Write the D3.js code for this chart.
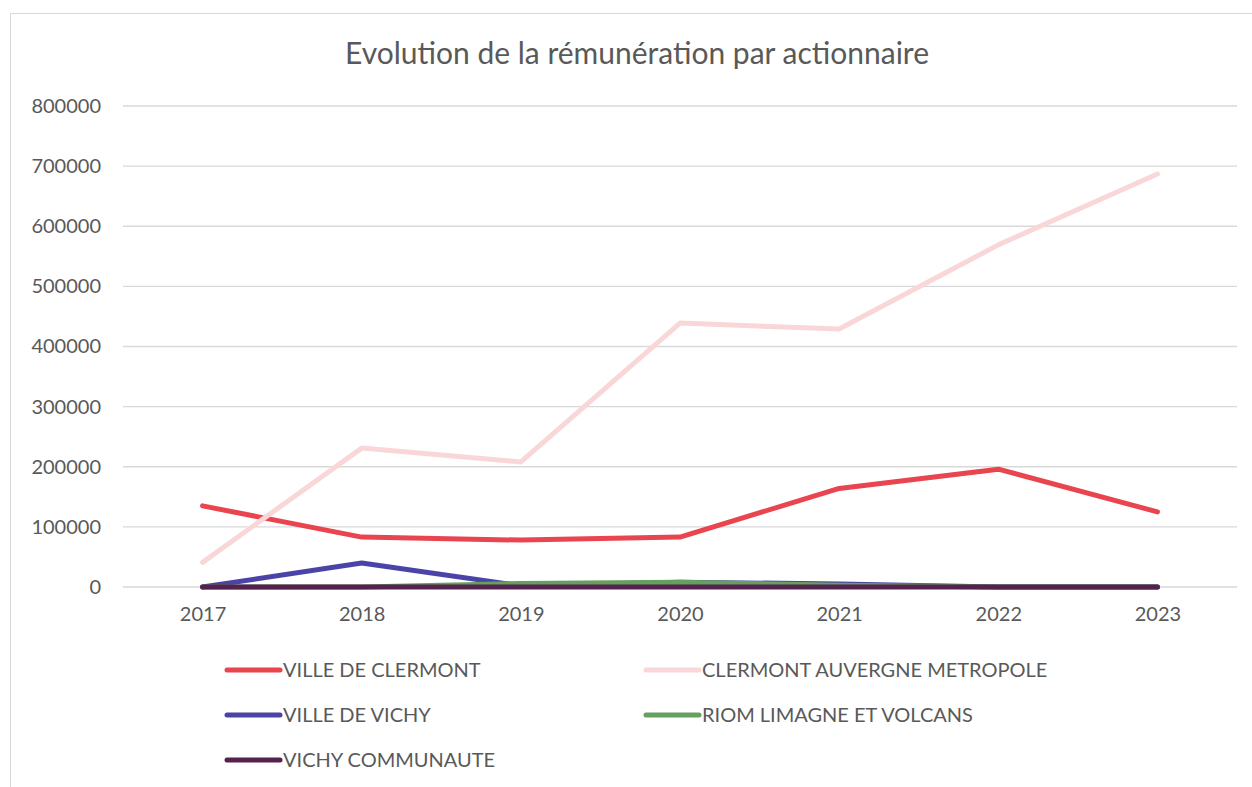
<!DOCTYPE html>
<html>
<head>
<meta charset="utf-8">
<script src="https://cdn.jsdelivr.net/npm/d3@7"></script>
<style>
  body { margin: 0; background: #fff; }
  text { font-family: Lato, "Open Sans", sans-serif; fill: #595959; }
</style>
</head>
<body>
<div id="chart"></div>
<script>
// Data
var years = ["2017", "2018", "2019", "2020", "2021", "2022", "2023"];
var villeClermont = [135000, 83000, 78000, 83000, 164000, 196000, 125000];
var clermontMetropole = [41000, 231000, 208000, 439000, 429000, 569000, 687000];
var villeVichy = [0, 40000, 2000, 8000, 5000, 0, 0];
var riomLimagne = [0, 0, 6000, 8000, 3000, 0, 0];
var vichyCommunaute = [0, 0, 0, 0, 0, 0, 0];
var yTicks = [0, 100000, 200000, 300000, 400000, 500000, 600000, 700000, 800000];

var series = [
  { name: "VILLE DE CLERMONT", values: villeClermont, color: "#E8454F" },
  { name: "CLERMONT AUVERGNE METROPOLE", values: clermontMetropole, color: "#F9D7D8" },
  { name: "VILLE DE VICHY", values: villeVichy, color: "#4B44A8" },
  { name: "RIOM LIMAGNE ET VOLCANS", values: riomLimagne, color: "#65A05F" },
  { name: "VICHY COMMUNAUTE", values: vichyCommunaute, color: "#55214E" }
];

var svgWidth = 1252;
var svgHeight = 787;

var margin = { top: 106, right: 15, bottom: 200, left: 123 };
var width = svgWidth - margin.left - margin.right;
var height = 587 - margin.top;

var svg = d3.select("#chart")
  .append("svg")
  .attr("width", svgWidth)
  .attr("height", svgHeight);

// chart frame (cut off on the right and bottom)
svg.append("path")
  .attr("d", "M10.5,800 V13.5 H1260")
  .attr("fill", "none")
  .attr("stroke", "#d9d9d9")
  .attr("stroke-width", 1);

svg.append("text")
  .attr("x", 637)
  .attr("y", 64)
  .attr("text-anchor", "middle")
  .style("font-size", "30px")
  .text("Evolution de la rémunération par actionnaire");

var chartGroup = svg.append("g")
  .attr("transform", `translate(${margin.left}, ${margin.top})`);

var xScale = d3.scalePoint()
  .domain(years)
  .range([0, width])
  .padding(0.5);

var yScale = d3.scaleLinear()
  .domain([0, 800000])
  .range([height, 0]);

// gridlines
chartGroup.selectAll(".grid")
  .data(yTicks)
  .enter()
  .append("line")
  .attr("x1", 0)
  .attr("x2", width)
  .attr("y1", d => yScale(d))
  .attr("y2", d => yScale(d))
  .attr("stroke", "#d9d9d9")
  .attr("stroke-width", 1.3);

// y axis labels
var leftAxis = d3.axisLeft(yScale).tickValues(yTicks).tickSize(0).tickPadding(22).tickFormat(d3.format("d"));
chartGroup.append("g")
  .call(leftAxis)
  .call(g => g.select(".domain").remove())
  .selectAll("text")
  .style("font-size", "20px")
  .attr("fill", "#595959");

// x axis labels
var bottomAxis = d3.axisBottom(xScale).tickSize(0).tickPadding(20);
chartGroup.append("g")
  .attr("transform", `translate(0, ${height})`)
  .call(bottomAxis)
  .call(g => g.select(".domain").remove())
  .selectAll("text")
  .style("font-size", "20px")
  .attr("fill", "#595959");

var line = d3.line()
  .x((d, i) => xScale(years[i]))
  .y(d => yScale(d));

chartGroup.selectAll(".series")
  .data(series)
  .enter()
  .append("path")
  .attr("d", d => line(d.values))
  .attr("fill", "none")
  .attr("stroke", d => d.color)
  .attr("stroke-width", 5)
  .attr("stroke-linejoin", "round")
  .attr("stroke-linecap", "round");

// legend
var legend = svg.append("g");
var legendItems = legend.selectAll(".item")
  .data(series)
  .enter()
  .append("g")
  .attr("transform", (d, i) => `translate(${i % 2 === 0 ? 227 : 646}, ${670 + Math.floor(i / 2) * 45})`);

legendItems.append("line")
  .attr("x1", 0)
  .attr("x2", 53)
  .attr("stroke", d => d.color)
  .attr("stroke-width", 5)
  .attr("stroke-linecap", "round");

legendItems.append("text")
  .attr("x", 56)
  .attr("dy", "0.35em")
  .style("font-size", "20px")
  .text(d => d.name);
</script>
</body>
</html>
